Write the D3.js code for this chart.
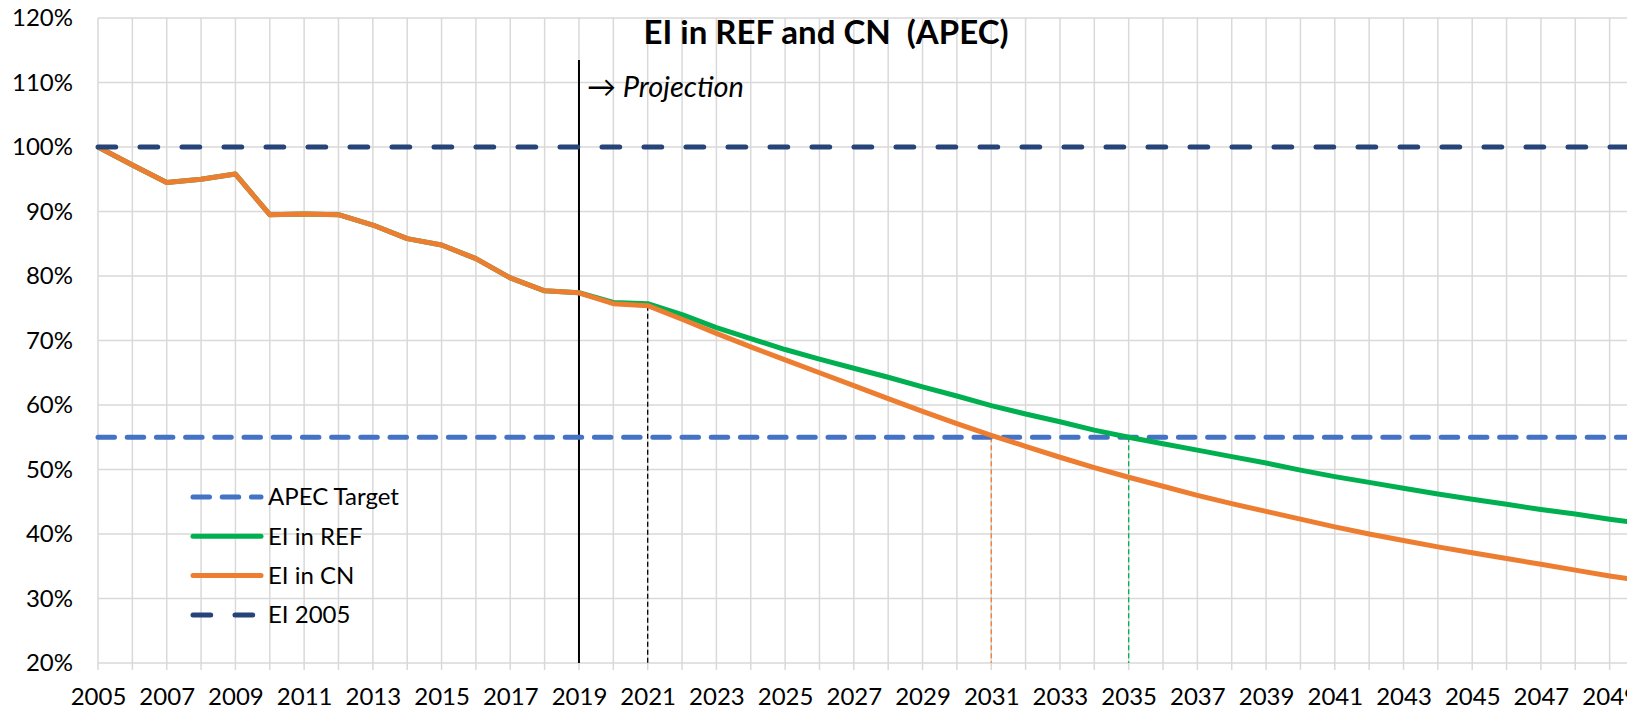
<!DOCTYPE html>
<html>
<head>
<meta charset="utf-8">
<script src="https://cdn.jsdelivr.net/npm/d3@7/dist/d3.min.js"></script>
<style>
  body { margin: 0; background: #fff; overflow: hidden; }
  svg { display: block; font-family: Lato, "Noto Sans", sans-serif; }
</style>
</head>
<body>
<svg id="chart"></svg>
<script>
// years on the x axis
const years = d3.range(2005, 2051);
const yearTicks = d3.range(2005, 2050, 2);
const pctTicks = [0.2, 0.3, 0.4, 0.5, 0.6, 0.7, 0.8, 0.9, 1.0, 1.1, 1.2];

// energy intensity relative to 2005
const history = [1.000, 0.972, 0.945, 0.950, 0.958, 0.895, 0.896, 0.895, 0.879, 0.858,
                 0.848, 0.827, 0.797, 0.777, 0.774];
const eiRef = history.concat([0.759, 0.757, 0.740, 0.720, 0.703, 0.686, 0.671, 0.657, 0.643,
  0.628, 0.614, 0.599, 0.586, 0.574, 0.561, 0.550, 0.540, 0.530, 0.520, 0.510, 0.499,
  0.489, 0.480, 0.471, 0.462, 0.454, 0.446, 0.438, 0.431, 0.423, 0.416]);
const eiCn = history.concat([0.757, 0.754, 0.733, 0.711, 0.690, 0.670, 0.650, 0.630, 0.610,
  0.590, 0.571, 0.553, 0.536, 0.519, 0.503, 0.488, 0.474, 0.460, 0.447, 0.435, 0.423,
  0.411, 0.400, 0.390, 0.380, 0.371, 0.362, 0.353, 0.344, 0.335, 0.327]);

const apecTarget = 0.55;
const ei2005 = 1.0;
const projectionYear = 2019;
const lastDataYear = 2021;
const cnReachYear = 2031;
const refReachYear = 2035;

const W = 1627, H = 710;
const margin = { top: 18, left: 98, bottom: 47 };

const x = d3.scaleLinear().domain([2005, 2050]).range([margin.left, 1644]);
const y = d3.scaleLinear().domain([0.2, 1.2]).range([H - margin.bottom, margin.top]);

const svg = d3.select("#chart").attr("width", W).attr("height", H);

const gridColor = "#d9d9d9";
const green = "#00b050", orange = "#ed7d31", blue = "#4472c4", navy = "#264478";
const labelSize = 24;

// grid
svg.append("g")
  .selectAll("line")
  .data(pctTicks)
  .enter().append("line")
  .attr("x1", x(2005)).attr("x2", x(2050))
  .attr("y1", d => y(d)).attr("y2", d => y(d))
  .attr("stroke", gridColor).attr("stroke-width", 1.5);

svg.append("g")
  .selectAll("line")
  .data(years)
  .enter().append("line")
  .attr("x1", d => x(d)).attr("x2", d => x(d))
  .attr("y1", y(1.2)).attr("y2", y(0.2) + 7)
  .attr("stroke", gridColor).attr("stroke-width", 1.5);

// Add the X Axis labels
svg.append("g")
  .attr("transform", "translate(0," + (y(0.2) + 7) + ")")
  .call(d3.axisBottom(x).tickValues(yearTicks).tickFormat(d3.format("d")).tickSize(0).tickPadding(0))
  .call(g => g.select(".domain").remove())
  .selectAll("text")
  .attr("dy", null).attr("y", 35)
  .attr("font-size", labelSize).attr("font-family", "Lato, sans-serif").attr("fill", "#000");

// Add the Y Axis labels
svg.append("g")
  .attr("transform", "translate(" + (margin.left - 25) + ",0)")
  .call(d3.axisLeft(y).tickValues(pctTicks).tickFormat(d3.format(".0%")).tickSize(0).tickPadding(0))
  .call(g => g.select(".domain").remove())
  .selectAll("text")
  .attr("font-size", labelSize).attr("font-family", "Lato, sans-serif").attr("fill", "#000");

// marker lines
svg.append("line")
  .attr("x1", x(projectionYear)).attr("x2", x(projectionYear))
  .attr("y1", 60).attr("y2", y(0.2))
  .attr("stroke", "#000").attr("stroke-width", 2);

svg.append("line")
  .attr("x1", x(lastDataYear)).attr("x2", x(lastDataYear))
  .attr("y1", y(eiCn[years.indexOf(lastDataYear)])).attr("y2", y(0.2))
  .attr("stroke", "#000").attr("stroke-width", 1.3).attr("stroke-dasharray", "5,3");

svg.append("line")
  .attr("x1", x(cnReachYear)).attr("x2", x(cnReachYear))
  .attr("y1", y(apecTarget)).attr("y2", y(0.2))
  .attr("stroke", orange).attr("stroke-width", 1.3).attr("stroke-dasharray", "5,3");

svg.append("line")
  .attr("x1", x(refReachYear)).attr("x2", x(refReachYear))
  .attr("y1", y(apecTarget)).attr("y2", y(0.2))
  .attr("stroke", green).attr("stroke-width", 1.3).attr("stroke-dasharray", "5,3");

// series
const valueline = d3.line()
  .x((d, i) => x(years[i]))
  .y(d => y(d));

svg.append("line")
  .attr("x1", x(2005)).attr("x2", x(2050))
  .attr("y1", y(apecTarget)).attr("y2", y(apecTarget))
  .attr("stroke", blue).attr("stroke-width", 5)
  .attr("stroke-linecap", "round").attr("stroke-dasharray", "16.5,12.7");

svg.append("path").datum(eiRef)
  .attr("d", valueline).attr("fill", "none")
  .attr("stroke", green).attr("stroke-width", 5).attr("stroke-linejoin", "round");

svg.append("path").datum(eiCn)
  .attr("d", valueline).attr("fill", "none")
  .attr("stroke", orange).attr("stroke-width", 5).attr("stroke-linejoin", "round");

svg.append("line")
  .attr("x1", x(2005)).attr("x2", x(2050))
  .attr("y1", y(ei2005)).attr("y2", y(ei2005))
  .attr("stroke", navy).attr("stroke-width", 5)
  .attr("stroke-linecap", "round").attr("stroke-dasharray", "17.7,24.3");

// title
svg.append("text")
  .attr("x", 826).attr("y", 44)
  .attr("text-anchor", "middle")
  .attr("font-size", 33).attr("font-weight", "bold")
  .attr("xml:space", "preserve")
  .text("EI in REF and CN  (APEC)");

svg.append("text")
  .attr("x", 587).attr("y", 97)
  .attr("font-size", 29)
  .attr("font-style", "italic")
  .text("\u2192 Projection");

// legend
const legend = [
  { name: "APEC Target", color: blue, dash: "16.5,12.7" },
  { name: "EI in REF", color: green, dash: null },
  { name: "EI in CN", color: orange, dash: null },
  { name: "EI 2005", color: navy, dash: "17.7,24.3" }
];

const lg = svg.append("g").selectAll("g")
  .data(legend)
  .enter().append("g")
  .attr("transform", (d, i) => "translate(0," + (497 + i * 39.3) + ")");

lg.append("line")
  .attr("x1", 193).attr("x2", 261)
  .attr("stroke", d => d.color).attr("stroke-width", 5)
  .attr("stroke-linecap", "round")
  .attr("stroke-dasharray", d => d.dash);

lg.append("text")
  .attr("x", 268).attr("dy", "0.35em")
  .attr("font-size", labelSize)
  .text(d => d.name);
</script>
</body>
</html>
